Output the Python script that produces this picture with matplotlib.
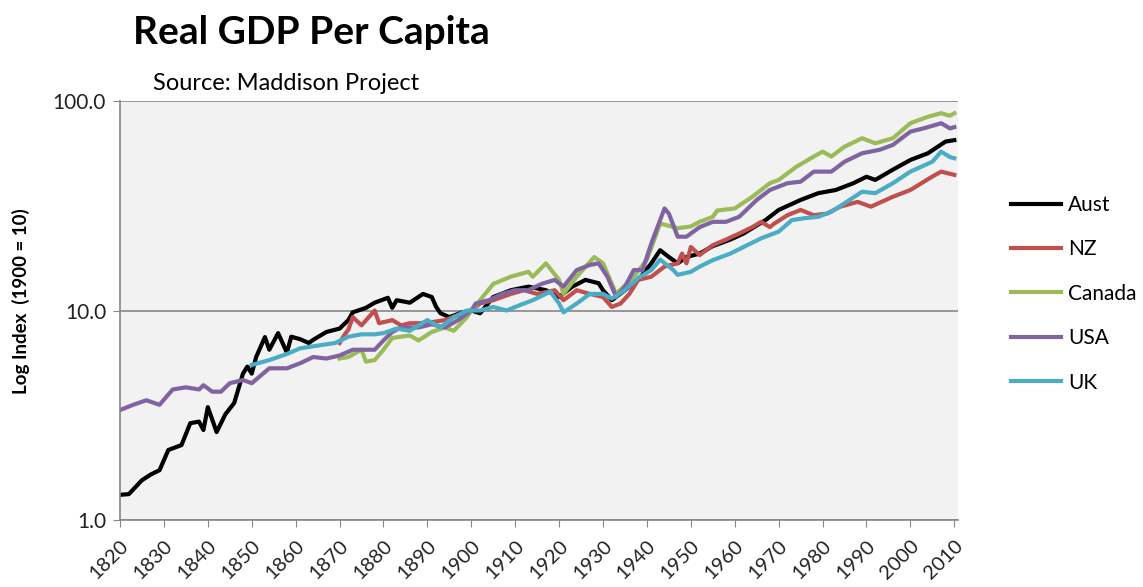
import matplotlib.pyplot as plt
from matplotlib.ticker import FixedLocator, NullLocator

# values (log index, 1900 = 10)
aust_years = [1820, 1822, 1825, 1827, 1829, 1831, 1834, 1836, 1838, 1839, 1840, 1842,
              1844, 1846, 1848, 1849, 1850, 1851, 1853, 1854, 1856, 1858, 1859, 1861,
              1863, 1864, 1867, 1870, 1872, 1873, 1876, 1878, 1881, 1882, 1883, 1886,
              1889, 1891, 1892, 1893, 1895, 1898, 1900, 1902, 1905, 1909, 1913, 1917,
              1920, 1923, 1926, 1929, 1930, 1932, 1935, 1938, 1941, 1943, 1945, 1947,
              1949, 1952, 1955, 1959, 1962, 1967, 1970, 1975, 1979, 1983, 1987, 1990,
              1992, 1996, 2000, 2004, 2008, 2010]
aust_vals = [1.32, 1.33, 1.55, 1.65, 1.73, 2.16, 2.28, 2.9, 2.95, 2.69, 3.46, 2.63,
             3.2, 3.62, 5.0, 5.4, 5.0, 6.0, 7.47, 6.5, 7.8, 6.3, 7.5, 7.3,
             7.0, 7.25, 7.9, 8.2, 9.0, 9.8, 10.3, 10.9, 11.5, 10.3, 11.2, 10.9,
             12.0, 11.6, 10.4, 9.7, 9.3, 9.8, 10.0, 9.7, 11.6, 12.5, 13.0, 12.5,
             11.6, 13.0, 14.0, 13.5, 12.5, 11.2, 12.5, 14.0, 16.8, 19.4, 18.0, 16.8,
             18.0, 18.7, 20.3, 21.8, 23.3, 27.0, 30.2, 33.7, 36.3, 37.6, 40.5, 43.5,
             42.0, 47.0, 52.3, 56.3, 64.0, 65.0]

nz_years = [1870, 1871, 1872, 1873, 1875, 1878, 1879, 1882, 1884, 1886, 1888, 1891,
            1894, 1897, 1899, 1900, 1902, 1905, 1909, 1912, 1915, 1919, 1921, 1924,
            1927, 1930, 1932, 1934, 1936, 1938, 1941, 1944, 1947, 1948, 1949, 1950,
            1952, 1955, 1958, 1961, 1964, 1966, 1968, 1969, 1972, 1975, 1978, 1981,
            1984, 1988, 1991, 1996, 2000, 2005, 2007, 2010]
nz_vals = [7.0, 7.6, 8.1, 9.3, 8.5, 10.0, 8.7, 9.0, 8.5, 8.7, 8.7, 8.8,
           9.0, 9.5, 9.7, 10.0, 10.8, 11.2, 12.0, 12.5, 12.0, 12.5, 11.2, 12.5,
           12.0, 11.6, 10.4, 10.8, 12.0, 14.0, 14.5, 16.2, 16.8, 18.7, 16.8, 20.1,
           18.4, 20.5, 21.8, 23.3, 25.0, 26.5, 25.0, 26.0, 28.5, 30.2, 28.5, 29.0,
           31.3, 33.0, 31.3, 34.9, 37.6, 43.6, 46.0, 44.4]

canada_years = [1870, 1872, 1875, 1876, 1878, 1880, 1882, 1884, 1886, 1888, 1891, 1894,
                1896, 1899, 1900, 1902, 1905, 1909, 1913, 1914, 1917, 1920, 1921, 1924,
                1928, 1930, 1933, 1937, 1940, 1943, 1944, 1947, 1950, 1952, 1955, 1956,
                1960, 1964, 1968, 1970, 1974, 1978, 1980, 1982, 1985, 1989, 1992, 1996,
                2000, 2004, 2007, 2009, 2010]
canada_vals = [5.9, 6.0, 6.5, 5.7, 5.8, 6.5, 7.4, 7.5, 7.6, 7.2, 7.9, 8.3,
               8.0, 9.3, 10.0, 11.2, 13.4, 14.5, 15.3, 14.5, 16.8, 14.0, 12.0, 14.5,
               18.0, 16.8, 12.0, 14.5, 17.5, 26.0, 25.7, 24.7, 25.2, 26.5, 28.0, 30.0,
               30.7, 34.9, 40.5, 42.0, 48.5, 54.3, 57.3, 54.3, 60.5, 66.4, 62.8, 66.4,
               78.3, 84.1, 87.4, 85.0, 87.4]

usa_years = [1820, 1823, 1826, 1829, 1832, 1835, 1838, 1839, 1841, 1843, 1845, 1848,
             1850, 1854, 1858, 1861, 1864, 1867, 1870, 1873, 1878, 1880, 1882, 1884,
             1888, 1891, 1894, 1897, 1900, 1901, 1904, 1907, 1910, 1913, 1916, 1919,
             1921, 1924, 1927, 1929, 1931, 1933, 1935, 1937, 1939, 1941, 1944, 1945,
             1947, 1949, 1952, 1955, 1958, 1961, 1965, 1968, 1972, 1975, 1978, 1982,
             1985, 1989, 1993, 1996, 2000, 2003, 2007, 2009, 2010]
usa_vals = [3.35, 3.55, 3.73, 3.55, 4.2, 4.3, 4.2, 4.4, 4.1, 4.1, 4.5, 4.66,
            4.5, 5.3, 5.3, 5.6, 6.0, 5.9, 6.1, 6.5, 6.5, 7.2, 7.9, 8.3,
            8.3, 8.6, 8.3, 9.0, 10.0, 10.8, 11.2, 12.0, 12.5, 12.5, 13.4, 14.0,
            13.0, 15.6, 16.5, 16.8, 14.5, 11.6, 13.0, 15.6, 15.6, 20.9, 30.7, 29.0,
            22.5, 22.5, 25.0, 26.5, 26.5, 28.0, 33.7, 37.6, 40.5, 41.2, 46.0, 46.0,
            51.3, 56.3, 58.5, 61.7, 71.4, 74.0, 78.3, 74.0, 75.0]

uk_years = [1850, 1854, 1858, 1861, 1865, 1869, 1872, 1875, 1878, 1880, 1883, 1886,
            1890, 1893, 1896, 1899, 1902, 1905, 1908, 1911, 1914, 1918, 1920, 1921,
            1924, 1927, 1930, 1932, 1935, 1938, 1941, 1943, 1946, 1947, 1950, 1952,
            1955, 1959, 1962, 1966, 1970, 1973, 1976, 1979, 1982, 1985, 1989, 1992,
            1996, 2000, 2005, 2007, 2009, 2010]
uk_vals = [5.5, 5.8, 6.2, 6.6, 6.8, 7.0, 7.5, 7.7, 7.7, 7.8, 8.2, 8.0,
           9.0, 8.3, 9.3, 10.0, 10.0, 10.4, 10.0, 10.6, 11.2, 12.3, 10.8, 9.8,
           10.8, 12.0, 12.0, 11.4, 12.5, 14.3, 15.6, 17.5, 15.6, 14.8, 15.3, 16.2,
           17.4, 18.7, 20.1, 22.1, 23.8, 27.0, 27.6, 28.0, 29.6, 32.5, 36.9, 36.3,
           40.5, 46.0, 51.3, 57.3, 54.0, 53.3]

series_names = ["Aust", "NZ", "Canada", "USA", "UK"]
series_colors = ["#000000", "#C0504D", "#9BBB59", "#8064A2", "#4BACC6"]
decade_ticks = list(range(1820, 2011, 10))
y_ticks = [1, 10, 100]
y_tick_labels = ["1.0", "10.0", "100.0"]

plt.rcParams["font.family"] = ["Lato", "DejaVu Sans"]

fig = plt.figure(figsize=(11.43, 5.87), dpi=100)
ax = fig.add_axes([0.105, 0.114, 0.733, 0.714])
ax.set_facecolor("#F2F2F2")

data = [(aust_years, aust_vals), (nz_years, nz_vals), (canada_years, canada_vals),
        (usa_years, usa_vals), (uk_years, uk_vals)]
for (xs, ys), name, color in zip(data, series_names, series_colors):
    ax.plot(xs, ys, color=color, lw=3.0, label=name, solid_joinstyle="round")

ax.set_yscale("log")
ax.set_ylim(1, 100)
ax.set_xlim(1820, 2010.8)
ax.yaxis.set_major_locator(FixedLocator(y_ticks))
ax.yaxis.set_minor_locator(NullLocator())
ax.set_yticklabels(y_tick_labels)
ax.set_xticks(decade_ticks)
ax.set_xticklabels([str(t) for t in decade_ticks], rotation=45, ha="right",
                   rotation_mode="anchor")
ax.tick_params(axis="both", direction="out", length=5, color="#868686",
               labelsize=15, labelcolor="#222222")
ax.tick_params(axis="x", pad=7, labelsize=14.5)
ax.tick_params(axis="y", pad=5)

ax.grid(True, axis="y", color="#868686", lw=1.2)
ax.set_axisbelow(True)
for side in ("top", "right"):
    ax.spines[side].set_visible(False)
for side in ("left", "bottom"):
    ax.spines[side].set_color("#868686")
    ax.spines[side].set_linewidth(1.2)

fig.text(0.018, 0.487, "Log Index  (1900 = 10)", fontsize=13.5, fontweight="bold",
         rotation=90, ha="center", va="center")

fig.text(0.116, 0.944, "Real GDP Per Capita", fontsize=28, fontweight="bold",
         ha="left", va="center")
fig.text(0.134, 0.858, "Source: Maddison Project", fontsize=17, ha="left", va="center")

ax.legend(loc="center left", bbox_to_anchor=(1.041, 0.54), frameon=False,
          fontsize=15, handlelength=2.4, handletextpad=0.35, labelspacing=1.17)

fig.savefig("out.png", dpi=100)
